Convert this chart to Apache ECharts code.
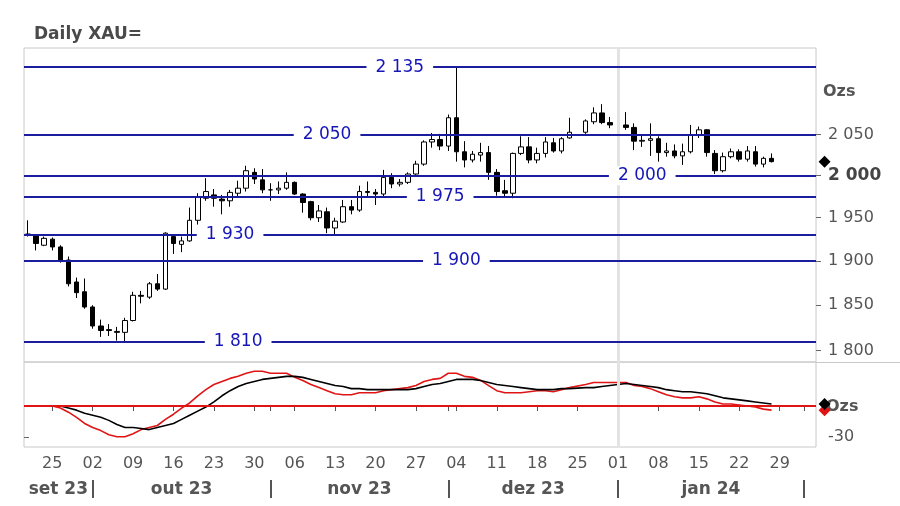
<!DOCTYPE html>
<html><head><meta charset="utf-8">
<script src="https://cdn.jsdelivr.net/npm/echarts@6/dist/echarts.min.js"></script>
<style>html,body{margin:0;padding:0;background:#fff}#c{width:900px;height:506px}</style>
</head><body><div id="c"></div>
<script>
// ---- categories (trading-day slots) ----
const dates = [
'2023-09-20','2023-09-21','2023-09-22','2023-09-25','2023-09-26','2023-09-27','2023-09-28','2023-09-29',
'2023-10-02','2023-10-03','2023-10-04','2023-10-05','2023-10-06','2023-10-09','2023-10-10','2023-10-11','2023-10-12','2023-10-13',
'2023-10-16','2023-10-17','2023-10-18','2023-10-19','2023-10-20','2023-10-23','2023-10-24','2023-10-25','2023-10-26','2023-10-27','2023-10-30','2023-10-31',
'2023-11-01','2023-11-02','2023-11-03','2023-11-06','2023-11-07','2023-11-08','2023-11-09','2023-11-10','2023-11-13','2023-11-14','2023-11-15',
'2023-11-16','2023-11-17','2023-11-20','2023-11-21','2023-11-22','2023-11-23','2023-11-24','2023-11-27','2023-11-28','2023-11-29','2023-11-30',
'2023-12-01','2023-12-04','2023-12-05','2023-12-06','2023-12-07','2023-12-08','2023-12-11','2023-12-12','2023-12-13','2023-12-14','2023-12-15',
'2023-12-18','2023-12-19','2023-12-20','2023-12-21','2023-12-22','2023-12-25','2023-12-26','2023-12-27','2023-12-28','2023-12-29',
'2024-01-01','2024-01-02','2024-01-03','2024-01-04','2024-01-05','2024-01-08','2024-01-09','2024-01-10','2024-01-11','2024-01-12',
'2024-01-15','2024-01-16','2024-01-17','2024-01-18','2024-01-19','2024-01-22','2024-01-23','2024-01-24','2024-01-25','2024-01-26',
'2024-01-29','2024-01-30','2024-01-31','2024-02-01','2024-02-02'
];
// ---- daily candles [open, close, low, high]; null = no trading ----
const candles = [
[1931,1930,1928,1947],[1930,1920,1912,1931],[1918,1926,1917,1928],[1925,1916,1912,1927],[1916,1901,1898,1918],
[1901,1874,1871,1905],[1876,1864,1858,1881],[1865,1848,1846,1880],[1848,1827,1824,1850],[1827,1822,1815,1834],
[1823,1822,1816,1829],[1821,1820,1811,1826],[1820,1833,1810,1836],[1833,1861,1832,1865],[1861,1860,1852,1866],
[1859,1874,1857,1876],[1874,1868,1866,1885],[1868,1932,1867,1933],[1928,1920,1908,1929],[1919,1923,1910,1928],
[1923,1947,1922,1962],[1947,1974,1942,1979],[1973,1981,1970,1997],[1977,1973,1963,1984],[1972,1970,1954,1977],
[1970,1980,1963,1983],[1979,1985,1975,1994],[1985,2006,1981,2012],[2004,1996,1990,2009],[1995,1983,1979,2008],
[1983,1983,1970,1991],[1983,1985,1978,1993],[1985,1992,1983,2004],[1992,1978,1977,1993],[1978,1968,1956,1979],
[1969,1950,1947,1970],[1950,1958,1945,1965],[1957,1938,1932,1962],[1938,1946,1931,1950],[1945,1963,1944,1971],
[1963,1959,1954,1971],[1959,1981,1957,1988],[1981,1980,1975,1993],[1980,1978,1965,1984],[1978,1998,1975,2007],
[1998,1990,1985,2003],[1990,1992,1987,1996],[1992,2002,1990,2004],[2002,2014,2001,2018],[2014,2041,2012,2043],
[2041,2044,2034,2052],[2044,2036,2031,2051],[2036,2071,2030,2075],[2071,2029,2017,2135],[2029,2019,2010,2042],
[2019,2026,2016,2030],[2025,2028,2017,2040],[2028,2004,1995,2036],[2004,1981,1976,2008],[1982,1979,1975,1995],
[1979,2027,1973,2028],[2027,2035,2025,2048],[2035,2019,2015,2047],[2019,2027,2015,2034],[2027,2041,2022,2047],
[2040,2030,2028,2046],[2030,2045,2027,2047],[2046,2053,2045,2071],null,[2053,2067,2051,2069],
[2066,2077,2063,2084],[2077,2065,2063,2088],[2065,2062,2058,2072],null,[2062,2059,2056,2078],
[2059,2042,2031,2064],[2042,2043,2035,2050],[2043,2045,2024,2064],[2045,2028,2017,2048],[2028,2030,2023,2040],
[2030,2024,2021,2038],[2024,2029,2013,2039],[2029,2049,2027,2062],[2049,2056,2046,2060],[2056,2028,2023,2057],
[2027,2006,2002,2031],[2006,2023,2004,2028],[2023,2029,2021,2033],[2029,2020,2017,2032],[2020,2030,2017,2036],
[2029,2014,2011,2036],[2014,2021,2010,2023],[2021,2017,2016,2027]
];
// ---- lower panel oscillator ----
const oscRed = [0,0,0,0,-2,-6,-11,-17,-21,-24,-28,-30,-30,-27,-23,-21,-19,-13,-8,-2,
3,10,16,21,24,27,29,32,34,34,32,32,32,28,25,21,18,15,12,11,
11,13,13,13,15,16,17,18,20,24,26,27,32,32,29,28,25,20,15,13,
13,13,14,15,15,14,16,18,null,21,23,23,23,null,23,20,19,17,14,11,
9,8,8,9,7,4,2,2,1,0,-1,-3,-4];
const oscBlack = [0,0,0,0,0,-2,-4,-7,-9,-11,-14,-18,-21,-21,-22,-23,-21,-19,-17,-13,
-9,-5,-1,4,10,15,19,22,24,26,27,28,29,29,28,26,24,22,20,19,
17,17,16,16,16,16,16,16,17,19,21,22,24,26,26,26,25,23,21,20,
19,18,17,16,16,16,17,17,null,18,18,19,20,null,22,21,20,19,18,16,
15,14,14,13,12,10,8,7,6,5,4,3,2];
// ---- horizontal levels ----
const levels = [2135, 2050, 2000, 1975, 1930, 1900, 1810];
const levelLabelDates = ['2023-11-23','2023-11-10','2024-01-04','2023-11-30','2023-10-25','2023-12-04','2023-10-26'];
// ---- tick labels ----
const priceTicks = [1800, 1850, 1900, 1950, 2000, 2050];
const oscTicks = [-30];
const monthNames = {'09':'set','10':'out','11':'nov','12':'dez','01':'jan','02':'fev'};
const yearMarkerDate = '2024-01-01';

function fmt(v){ v = Math.round(v); const s = String(Math.abs(v)); const t = s.length > 3 ? s.slice(0, -3) + ' ' + s.slice(-3) : s; return (v < 0 ? '-' : '') + t; }
const mon = d => d.slice(5, 7);
const isMonday = d => new Date(d + 'T00:00:00Z').getUTCDay() === 1;

// month separators (centre of first slot of each month) and label centres
const seps = [];
for (let i = 1; i < dates.length; i++) if (mon(dates[i]) !== mon(dates[i - 1])) seps.push(i + 0.5);
const monthCenters = [], monthLabelMap = {};
for (let k = 0; k < seps.length; k++) {
  const l = k === 0 ? 0 : seps[k - 1], r = seps[k];
  const c = (l + r) / 2;
  const d = dates[Math.floor(l)];
  monthCenters.push(c);
  monthLabelMap[c.toFixed(2)] = monthNames[mon(d)] + ' ' + d.slice(2, 4);
}
const tickSlot = (idx, val) => isMonday(val) || (idx > 0 && mon(val) !== mon(dates[idx - 1]));

const lastIdx = candles.length - 1;
const FONT = '"DejaVu Sans", Verdana, sans-serif';
const BLUE_LINE = '#1c1c9e', BLUE_TEXT = '#1616b8', GREY = '#555';

const chart = echarts.init(document.getElementById('c'), null, {renderer: 'canvas'});
chart.setOption({
  animation: false,
  textStyle: {fontFamily: FONT},
  title: {text: 'Daily XAU=', left: 29, top: 21, textStyle: {fontSize: 17, fontWeight: 'bold', color: '#4a4a4a', fontFamily: FONT}},
  grid: [
    {left: 24, width: 792, top: 48, height: 314, show: true, borderColor: '#c8c8c8', borderWidth: 1, backgroundColor: 'transparent'},
    {left: 24, width: 792, top: 362, height: 85, show: true, borderColor: '#c8c8c8', borderWidth: 1, backgroundColor: 'transparent'}
  ],
  xAxis: [
    {type: 'category', gridIndex: 0, data: dates, boundaryGap: true, show: false},
    {type: 'category', gridIndex: 1, data: dates, boundaryGap: true,
      axisLine: {show: false},
      axisTick: {show: true, alignWithLabel: true, interval: tickSlot, length: 5, lineStyle: {color: '#555'}},
      axisLabel: {interval: (i, v) => isMonday(v), formatter: v => v.slice(8), color: GREY, fontSize: 16, margin: 9, fontFamily: FONT},
      splitLine: {show: false}},
    {type: 'value', gridIndex: 1, min: 0, max: dates.length, position: 'bottom', offset: 33,
      axisLine: {show: false}, splitLine: {show: false},
      axisTick: {show: true, customValues: seps, length: 18, lineStyle: {color: '#555', width: 2}},
      axisLabel: {customValues: monthCenters, formatter: v => monthLabelMap[Number(v).toFixed(2)] || '', color: GREY, fontSize: 17, fontWeight: 'bold', margin: 1, fontFamily: FONT}}
  ],
  yAxis: [
    {type: 'log', logBase: 10, gridIndex: 0, position: 'right', min: 1787.8, max: 2159.8,
      splitLine: {show: false}, axisLine: {show: false},
      axisTick: {show: true, customValues: priceTicks, length: 5, lineStyle: {color: '#666'}},
      axisLabel: {customValues: priceTicks, margin: 12, color: GREY, fontSize: 16, fontFamily: FONT,
        formatter: v => Math.round(v) === 2000 ? '{b|' + fmt(v) + '}' : fmt(v),
        rich: {b: {fontWeight: 'bold', color: '#444', fontSize: 17, fontFamily: FONT}}}},
    {type: 'value', gridIndex: 1, position: 'right', min: -40, max: 43,
      splitLine: {show: false}, axisLine: {show: false},
      axisTick: {show: true, customValues: oscTicks, length: 5, lineStyle: {color: '#666'}},
      axisLabel: {customValues: oscTicks, margin: 12, color: GREY, fontSize: 16, fontFamily: FONT, formatter: v => fmt(v)}}
  ],
  series: [
    {type: 'line', xAxisIndex: 0, yAxisIndex: 0, data: [], z: 1, silent: true,
      markLine: {silent: true, symbol: ['none', 'none'], label: {show: false},
        lineStyle: {color: '#e3e3e3', width: 3, type: 'solid'}, data: [{xAxis: yearMarkerDate}]}},
    {type: 'line', xAxisIndex: 1, yAxisIndex: 1, data: [], z: 1, silent: true,
      markLine: {silent: true, symbol: ['none', 'none'], label: {show: false},
        lineStyle: {color: '#e3e3e3', width: 3, type: 'solid'}, data: [{xAxis: yearMarkerDate}]}},
    {type: 'candlestick', xAxisIndex: 0, yAxisIndex: 0, z: 3, silent: true,
      data: candles.map(c => c ? c : '-'), barWidth: 5,
      itemStyle: {color: '#fff', color0: '#000', borderColor: '#000', borderColor0: '#000', borderWidth: 1},
      markLine: {silent: true, symbol: ['none', 'none'], label: {show: false},
        lineStyle: {color: BLUE_LINE, width: 2, type: 'solid'},
        data: levels.map(v => ({yAxis: v}))},
      markPoint: {silent: true, data: [{coord: [dates[lastIdx], candles[lastIdx][1]], symbol: 'diamond', symbolSize: 12,
        symbolOffset: [53, 0], itemStyle: {color: '#000'}, label: {show: false}}]}},
    {type: 'scatter', xAxisIndex: 0, yAxisIndex: 0, z: 6, silent: true, symbolSize: 1,
      itemStyle: {color: '#fff'},
      data: levels.map((v, i) => [levelLabelDates[i], v]),
      label: {show: true, position: 'inside', formatter: p => fmt(p.value[1]), color: BLUE_TEXT, fontSize: 17,
        fontFamily: FONT, backgroundColor: '#fff', padding: [1, 9], opacity: 1}},
    {type: 'line', xAxisIndex: 1, yAxisIndex: 1, z: 3, data: oscRed, showSymbol: false, symbol: 'none', connectNulls: true,
      lineStyle: {color: '#e01414', width: 1.6},
      markLine: {silent: true, symbol: ['none', 'none'], label: {show: false},
        lineStyle: {color: '#e01414', width: 2, type: 'solid'}, data: [{yAxis: 0}]},
      markPoint: {silent: true, data: [{coord: [dates[lastIdx], oscRed[lastIdx]], symbol: 'diamond', symbolSize: 12,
        symbolOffset: [53, 0], itemStyle: {color: '#e01414'}, label: {show: false}}]}},
    {type: 'line', xAxisIndex: 1, yAxisIndex: 1, z: 4, data: oscBlack, showSymbol: false, symbol: 'none', connectNulls: true,
      lineStyle: {color: '#000', width: 1.6},
      markPoint: {silent: true, data: [{coord: [dates[lastIdx], oscBlack[lastIdx]], symbol: 'diamond', symbolSize: 12,
        symbolOffset: [53, 0], itemStyle: {color: '#000'}, label: {show: false}}]}}
  ],
  graphic: [
    {type: 'text', left: 823, top: 84, z: 0, style: {text: 'Ozs', font: 'bold 16px ' + FONT, fill: GREY}},
    {type: 'text', left: 826, top: 399, z: 0, style: {text: 'Ozs', font: 'bold 16px ' + FONT, fill: GREY}},
    {type: 'line', z: 0, shape: {x1: 816, y1: 362.5, x2: 900, y2: 362.5}, style: {stroke: '#c8c8c8', lineWidth: 1}}
  ]
});
</script>
</body></html>
